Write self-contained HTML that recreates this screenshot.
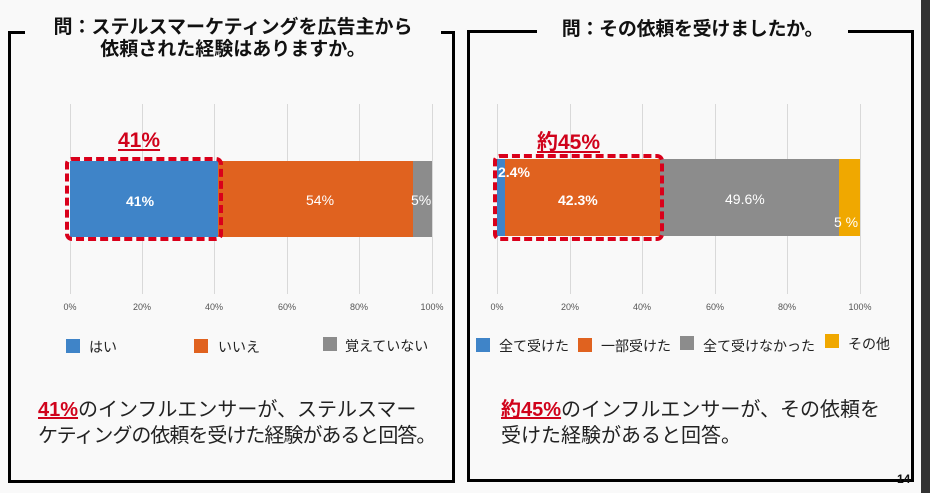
<!DOCTYPE html>
<html><head><meta charset="utf-8"><style>
*{margin:0;padding:0;box-sizing:border-box}
body{width:930px;height:493px;background:#f9f9f9;position:relative;overflow:hidden;font-family:"Liberation Sans","Noto Sans CJK JP",sans-serif;color:#111}
.a{position:absolute}
.t{font-weight:bold;font-size:19px;text-align:center;line-height:22px;white-space:nowrap}
.g{position:absolute;width:1px;background:#d9d9d9;top:104px;height:190px}
.tk{position:absolute;font-size:9px;color:#555;top:302px;transform:translateX(-50%)}
.sq{position:absolute;width:14px;height:14px}
.lg{position:absolute;font-size:14px;color:#222;white-space:nowrap}
.bl{position:absolute;color:#fff;font-size:14px;white-space:nowrap}
.big{position:absolute;font-size:20px;line-height:26px;white-space:nowrap;color:#222}
.red{color:#d0021b;font-weight:bold;text-decoration:underline}
.box{position:absolute;border:4px dashed #d9001b;border-radius:7px}
</style></head><body>
<div class="a" style="left:921px;top:0;width:9px;height:493px;background:#333"></div>
<div class="a" style="left:8px;top:31px;width:3px;height:452px;background:#000"></div>
<div class="a" style="left:8px;top:480px;width:447px;height:3px;background:#000"></div>
<div class="a" style="left:452px;top:31px;width:3px;height:452px;background:#000"></div>
<div class="a" style="left:8px;top:31px;width:17px;height:3px;background:#000"></div>
<div class="a" style="left:441px;top:31px;width:14px;height:3px;background:#000"></div>
<div class="a t" style="left:25px;width:416px;top:17px">問：ステルスマーケティングを広告主から<br>依頼された経験はありますか。</div>
<div class="a" style="left:467px;top:30px;width:3px;height:452px;background:#000"></div>
<div class="a" style="left:467px;top:479px;width:447px;height:3px;background:#000"></div>
<div class="a" style="left:911px;top:30px;width:3px;height:452px;background:#000"></div>
<div class="a" style="left:467px;top:30px;width:70px;height:3px;background:#000"></div>
<div class="a" style="left:848px;top:30px;width:66px;height:3px;background:#000"></div>
<div class="a t" style="left:537px;width:311px;top:19px;letter-spacing:-0.3px">問：その依頼を受けましたか。</div>
<div class="a" style="left:897px;top:472px;font-size:12px;font-weight:bold">14</div>

<div class="g" style="left:70px"></div><div class="g" style="left:142px"></div><div class="g" style="left:214px"></div><div class="g" style="left:287px"></div><div class="g" style="left:359px"></div><div class="g" style="left:432px"></div>
<div class="a" style="left:70px;top:161px;width:148px;height:76px;background:#3f84c8"></div>
<div class="a" style="left:218px;top:161px;width:195px;height:76px;background:#e0621f"></div>
<div class="a" style="left:413px;top:161px;width:19px;height:76px;background:#8c8c8c"></div>
<div class="bl" style="left:126px;top:193px;font-weight:bold">41%</div>
<div class="bl" style="left:306px;top:192px">54%</div>
<div class="bl" style="left:411px;top:192px">5%</div>
<div class="box" style="left:65px;top:157px;width:158px;height:84px"></div>
<div class="a red" style="left:118px;top:129px;font-size:21px">41%</div>
<div class="tk" style="left:70px">0%</div><div class="tk" style="left:142px">20%</div><div class="tk" style="left:214px">40%</div><div class="tk" style="left:287px">60%</div><div class="tk" style="left:359px">80%</div><div class="tk" style="left:432px">100%</div>
<div class="sq" style="left:66px;top:339px;background:#3f84c8"></div><div class="lg" style="left:89px;top:337px">はい</div>
<div class="sq" style="left:194px;top:339px;background:#e0621f"></div><div class="lg" style="left:218px;top:337px">いいえ</div>
<div class="sq" style="left:323px;top:337px;background:#8c8c8c"></div><div class="lg" style="left:345px;top:336px">覚えていない</div>
<div class="big" style="left:38px;top:397px"><span class="red">41%</span>のインフルエンサーが、ステルスマー<br><span style="letter-spacing:-1px">ケティングの依頼を受けた経験があると回答。</span></div>

<div class="g" style="left:497px"></div><div class="g" style="left:570px"></div><div class="g" style="left:642px"></div><div class="g" style="left:715px"></div><div class="g" style="left:787px"></div><div class="g" style="left:860px"></div>
<div class="a" style="left:497px;top:159px;width:8px;height:77px;background:#3f84c8"></div>
<div class="a" style="left:505px;top:159px;width:155px;height:77px;background:#e0621f"></div>
<div class="a" style="left:660px;top:159px;width:179px;height:77px;background:#8c8c8c"></div>
<div class="a" style="left:839px;top:159px;width:21px;height:77px;background:#f0a800"></div>
<div class="bl" style="left:498px;top:164px;font-weight:bold">2.4%</div>
<div class="bl" style="left:558px;top:192px;font-weight:bold">42.3%</div>
<div class="bl" style="left:725px;top:191px">49.6%</div>
<div class="bl" style="left:834px;top:214px">5 %</div>
<div class="box" style="left:493px;top:154px;width:171px;height:87px"></div>
<div class="a red" style="left:537px;top:126px;font-size:21px">約45%</div>
<div class="tk" style="left:497px">0%</div><div class="tk" style="left:570px">20%</div><div class="tk" style="left:642px">40%</div><div class="tk" style="left:715px">60%</div><div class="tk" style="left:787px">80%</div><div class="tk" style="left:860px">100%</div>
<div class="sq" style="left:476px;top:338px;background:#3f84c8"></div><div class="lg" style="left:499px;top:336px">全て受けた</div>
<div class="sq" style="left:578px;top:338px;background:#e0621f"></div><div class="lg" style="left:601px;top:336px">一部受けた</div>
<div class="sq" style="left:680px;top:336px;background:#8c8c8c"></div><div class="lg" style="left:703px;top:336px">全て受けなかった</div>
<div class="sq" style="left:825px;top:334px;background:#f0a800"></div><div class="lg" style="left:848px;top:334px">その他</div>
<div class="big" style="left:501px;top:397px"><span class="red">約45%</span>のインフルエンサーが、その依頼を<br>受けた経験があると回答。</div>
</body></html>
